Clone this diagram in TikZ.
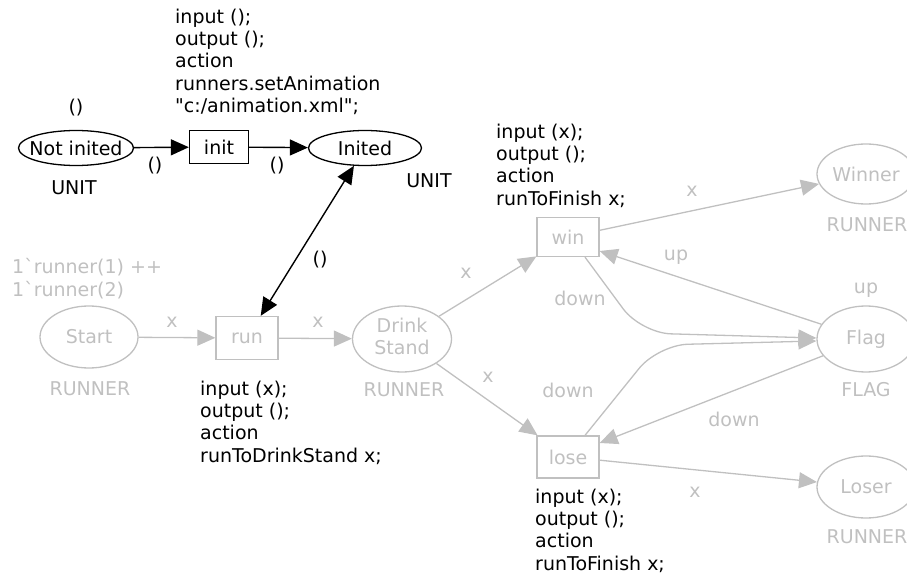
\documentclass[tikz,border=0pt]{standalone}
\usepackage{fontspec}
\newfontfamily\dv{DejaVu Sans}
\usetikzlibrary{arrows.meta,shapes.geometric}
\definecolor{lg}{RGB}{192,192,192}
\begin{document}
\begin{tikzpicture}[x=1pt,y=-1pt,
  every node/.style={font=\dv\fontsize{19}{22.3}\selectfont, inner sep=0pt},
  place/.style={draw, ellipse, line width=1.3pt},
  trans/.style={draw, rectangle, line width=1.3pt},
  gr/.style={draw=lg, text=lg},
  gtext/.style={text=lg},
  tip/.style={-{Triangle[length=18pt,width=16pt]}},
  barc/.style={line width=1.4pt, tip},
  garc/.style={draw=lg, line width=1.3pt, tip},
  code/.style={align=left, anchor=north west}
]
\clip (0,0) rectangle (907,577);

% ---------- black part ----------
\node[place, minimum width=115pt, minimum height=35pt] (notinited) at (76,148) {\makebox[0pt]{Not inited}};
\node[trans, minimum width=59pt, minimum height=33pt] (init) at (219,147) {init};
\node[place, minimum width=113pt, minimum height=35pt] (inited) at (365,148) {\makebox[0pt]{Inited}};

\node (mNot) at (76,108) {()};
\node (tNot) at (74,188) {UNIT};
\node (tInited) at (429,181) {UNIT};

\draw[barc] (notinited) -- (init);
\draw[barc] (init) -- (inited);
\node (l1) at (155,166) {()};
\node (l2) at (277,166) {()};

\node[code] (cInit) at (175,8.5) {input ();\\output ();\\action\\runners.setAnimation\\"c:/animation.xml";};

% ---------- gray part ----------
\node[place, gr, minimum width=98pt, minimum height=62pt] (start) at (89,337) {\makebox[0pt]{Start}};
\node[trans, gr, minimum width=62pt, minimum height=43pt] (run) at (247,338) {run};
\node[place, gr, minimum width=99pt, minimum height=66pt] (drink) at (402,339)
  {\makebox[0pt]{\begin{tabular}{@{}c@{}}Drink\\Stand\end{tabular}}};
\node[trans, gr, minimum width=62pt, minimum height=39pt] (win) at (568,237) {win};
\node[trans, gr, minimum width=62pt, minimum height=42pt] (lose) at (568,457) {lose};
\node[place, gr, minimum width=98pt, minimum height=60pt] (winner) at (866,174) {\makebox[0pt]{Winner}};
\node[place, gr, minimum width=98pt, minimum height=66pt] (flag) at (866,339) {\makebox[0pt]{Flag}};
\node[place, gr, minimum width=98pt, minimum height=62pt] (loser) at (866,487) {\makebox[0pt]{Loser}};

\node[gtext, code] (mStart) at (12,258.5) {1`runner(1) ++\\1`runner(2)};
\node[gtext] (tStart) at (90,389) {RUNNER};
\node[gtext] (tDrink) at (404,390) {RUNNER};
\node[gtext] (tWinner) at (867,225) {RUNNER};
\node[gtext] (mFlag) at (866,290) {up};
\node[gtext] (tFlag) at (866,390) {FLAG};
\node[gtext] (tLoser) at (867,537) {RUNNER};

% black double arc
\draw[line width=1.4pt, {Triangle[length=18pt,width=16pt]}-{Triangle[length=18pt,width=16pt]}] (inited) -- (run);
\node (l3) at (320,260) {()};

% gray arcs
\draw[garc] (start) -- (run);
\draw[garc] (run) -- (drink);
\draw[garc] (drink) -- (win);
\draw[garc] (drink) -- (lose);
\draw[garc] (win) -- (winner);
\draw[garc] (flag) -- ([yshift=-14pt]win.east);
\draw[garc] (flag) -- ([yshift=14pt]lose.east);
\draw[garc] (lose) -- (loser);
\draw[garc, rounded corners=30pt] ([xshift=17pt]win.south) -- (641,333) -- ([yshift=1pt]flag.west);
\draw[garc, rounded corners=30pt] ([xshift=17pt]lose.north) -- (658,345) -- ([yshift=-2pt]flag.west);

\node[gtext] (x1) at (172,322) {x};
\node[gtext] (x2) at (318,322) {x};
\node[gtext] (x3) at (466,273) {x};
\node[gtext] (x4) at (488,377) {x};
\node[gtext] (x5) at (692,191) {x};
\node[gtext] (x6) at (695,492) {x};
\node[gtext] (u1) at (676,257) {up};
\node[gtext] (d1) at (580,298) {down};
\node[gtext] (d2) at (568,390) {down};
\node[gtext] (d3) at (734,419) {down};

% code inscriptions
\node[code] (cWin) at (496,123.5) {input (x);\\output ();\\action\\runToFinish x;};
\node[code] (cRun) at (200,380.5) {input (x);\\output ();\\action\\runToDrinkStand x;};
\node[code] (cLose) at (535,488.5) {input (x);\\output ();\\action\\runToFinish x;};
\end{tikzpicture}
\end{document}
